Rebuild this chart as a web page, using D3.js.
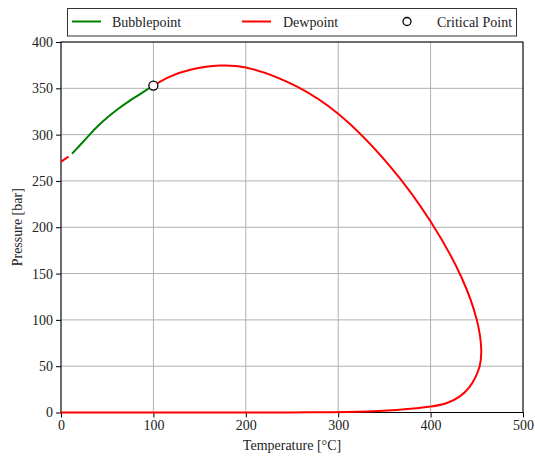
<!DOCTYPE html>
<html lang="en">
<head>
  <meta charset="UTF-8" />
  <title>Phase Envelope</title>
  <script src="https://d3js.org/d3.v7.min.js"></script>
  <style>
    body { margin: 0; background: #fff; }
    svg text { font-family: "Liberation Serif", "Times New Roman", Times, serif; fill: #222; }
  </style>
</head>
<body>
  <div id="chart"></div>
  <script>
    // temperature [°C] and pressure [bar]
    const bubbleT = [11.9, 20, 29.8, 40, 51.4, 62, 73, 86, 100];
    const bubbleP = [279.3, 288, 298.7, 309.3, 319.5, 328, 335.7, 344, 353];

    // short dewpoint piece left of the bubblepoint start
    const dewLowT = [-5, 1, 8.2];
    const dewLowP = [266.5, 271.4, 276.3];

    const dewT = [100, 118, 140, 172, 200, 255, 300.6, 355.7, 400, 433, 450, 454.8, 453, 442, 431.3, 417, 400, 363, 320, 250, 150, 0];
    const dewP = [353, 362.7, 370, 374.6, 372.5, 352, 322, 266.3, 206.2, 146.8, 100, 67.6, 49.6, 27.3, 17.2, 10, 6.4, 2.8, 0.8, 0.1, 0, 0];

    const critical = { t: 100, p: 353 };

    const xTicks = [0, 100, 200, 300, 400, 500];
    const yTicks = [0, 50, 100, 150, 200, 250, 300, 350, 400];

    const width = 535, height = 456;
    const margin = { top: 42, right: 12, bottom: 43.5, left: 61 };
    const innerW = width - margin.left - margin.right;
    const innerH = height - margin.top - margin.bottom;

    const svg = d3.select("#chart").append("svg")
      .attr("width", width)
      .attr("height", height);

    const x = d3.scaleLinear().domain([0, 500]).range([0, innerW]);
    const y = d3.scaleLinear().domain([0, 400]).range([innerH, 0]);

    const g = svg.append("g").attr("transform", `translate(${margin.left},${margin.top})`);

    svg.append("defs").append("clipPath").attr("id", "plotClip")
      .append("rect").attr("y", -2).attr("width", innerW).attr("height", innerH + 4);

    // grid
    g.append("g").selectAll("line").data(xTicks).enter().append("line")
      .attr("x1", d => x(d)).attr("x2", d => x(d))
      .attr("y1", 0).attr("y2", innerH)
      .attr("stroke", "#b0b0b0").attr("stroke-width", 1);
    g.append("g").selectAll("line").data(yTicks).enter().append("line")
      .attr("y1", d => y(d)).attr("y2", d => y(d))
      .attr("x1", 0).attr("x2", innerW)
      .attr("stroke", "#b0b0b0").attr("stroke-width", 1);

    // axes + frame
    const xAxis = g.append("g").attr("transform", `translate(0,${innerH})`)
      .call(d3.axisBottom(x).tickValues(xTicks).tickSize(5).tickPadding(3));
    const yAxis = g.append("g")
      .call(d3.axisLeft(y).tickValues(yTicks).tickSize(5).tickPadding(3));
    [xAxis, yAxis].forEach(a => {
      a.attr("font-family", null).attr("font-size", null);
      a.select(".domain").remove();
      a.selectAll("line").attr("stroke", "#000");
      a.selectAll("text").style("font-size", "14px").attr("fill", "#222");
    });

    g.append("rect")
      .attr("width", innerW).attr("height", innerH)
      .attr("fill", "none").attr("stroke", "#000").attr("stroke-width", 1);

    const line = d3.line()
      .x(d => x(d[0]))
      .y(d => y(d[1]))
      .curve(d3.curveCatmullRom.alpha(0.5));

    const plot = g.append("g").attr("clip-path", "url(#plotClip)");

    plot.append("path")
      .datum(d3.zip(dewLowT, dewLowP))
      .attr("d", line)
      .attr("fill", "none").attr("stroke", "#ff0000").attr("stroke-width", 2);

    plot.append("path")
      .datum(d3.zip(bubbleT, bubbleP))
      .attr("d", line)
      .attr("fill", "none").attr("stroke", "#008000").attr("stroke-width", 2);

    plot.append("path")
      .datum(d3.zip(dewT, dewP))
      .attr("d", line)
      .attr("fill", "none").attr("stroke", "#ff0000").attr("stroke-width", 2);

    g.append("circle")
      .attr("cx", x(critical.t)).attr("cy", y(critical.p)).attr("r", 4.5)
      .attr("fill", "#fff").attr("stroke", "#000").attr("stroke-width", 1.3);

    svg.append("text")
      .attr("x", margin.left + innerW / 2).attr("y", height - 6)
      .attr("text-anchor", "middle").style("font-size", "14px")
      .text("Temperature [°C]");

    svg.append("text")
      .attr("transform", `translate(22,${margin.top + innerH / 2}) rotate(-90)`)
      .attr("text-anchor", "middle").style("font-size", "14px")
      .text("Pressure [bar]");

    // legend
    const legend = svg.append("g");
    legend.append("rect")
      .attr("x", 67.5).attr("y", 8.5).attr("width", 449).attr("height", 27.5)
      .attr("fill", "#fff").attr("stroke", "#333").attr("stroke-width", 1);
    const legendItems = [
      { label: "Bubblepoint", color: "#008000", x0: 72, tx: 112, type: "line" },
      { label: "Dewpoint", color: "#ff0000", x0: 242, tx: 283, type: "line" },
      { label: "Critical Point", color: "#000", x0: 407, tx: 437, type: "dot" }
    ];
    legendItems.forEach(it => {
      if (it.type === "line") {
        legend.append("line")
          .attr("x1", it.x0).attr("x2", it.x0 + 29).attr("y1", 21.5).attr("y2", 21.5)
          .attr("stroke", it.color).attr("stroke-width", 2);
      } else {
        legend.append("circle")
          .attr("cx", it.x0).attr("cy", 21.5).attr("r", 4)
          .attr("fill", "#fff").attr("stroke", "#000").attr("stroke-width", 1.3);
      }
      legend.append("text")
        .attr("x", it.tx).attr("y", 26.5)
        .style("font-size", "14px")
        .text(it.label);
    });
  </script>
</body>
</html>
